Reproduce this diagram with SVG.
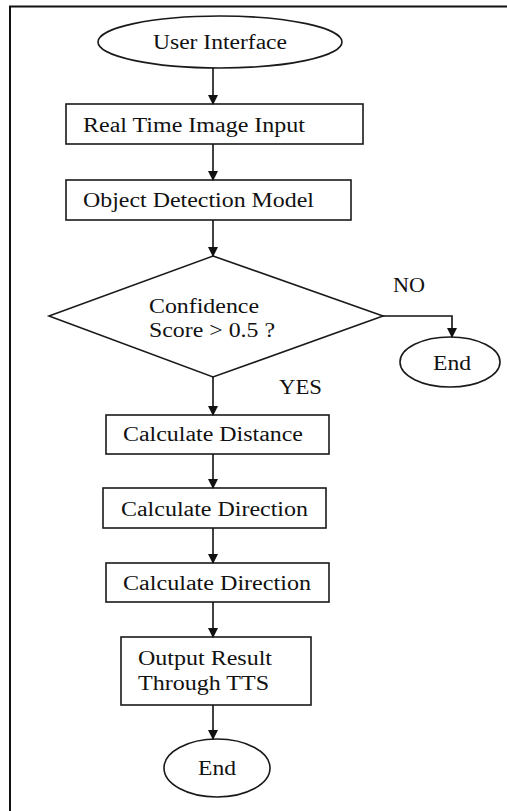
<svg xmlns="http://www.w3.org/2000/svg" width="507" height="811" viewBox="0 0 507 811">
<style>
.s{fill:#fff;stroke:#1a1a1a;stroke-width:1.6}
.t{font-family:"Liberation Serif","Times New Roman",serif;font-size:20px;fill:#111}
.c{stroke:#111;stroke-width:1.6;fill:none}
</style>
<defs>
<marker id="a" markerWidth="10" markerHeight="10" refX="9" refY="5" orient="auto" markerUnits="userSpaceOnUse">
<path d="M0,0 L10,5 L0,10 Z" fill="#111"/>
</marker>
</defs>
<rect width="507" height="811" fill="#fff"/>
<path d="M10,811 V6.5 H507" fill="none" stroke="#111" stroke-width="2"/>
<g id="n1"><ellipse class="s" cx="220" cy="42" rx="122" ry="26"/><text class="t" x="153" y="49" textLength="134" lengthAdjust="spacingAndGlyphs">User Interface</text></g>
<g id="n2"><rect class="s" x="66" y="104" width="297" height="40"/><text class="t" x="83" y="132" textLength="222" lengthAdjust="spacingAndGlyphs">Real Time Image Input</text></g>
<g id="n3"><rect class="s" x="66" y="180" width="285" height="40"/><text class="t" x="83" y="207" textLength="231" lengthAdjust="spacingAndGlyphs">Object Detection Model</text></g>
<g id="n4"><polygon class="s" points="213,256 383,316 213,377 49,316"/><text class="t" x="149" y="313" textLength="110" lengthAdjust="spacingAndGlyphs">Confidence</text><text class="t" x="149" y="337" textLength="126" lengthAdjust="spacingAndGlyphs">Score &gt; 0.5 ?</text></g>
<g id="n5"><ellipse class="s" cx="450" cy="362" rx="50" ry="25"/><text class="t" x="433" y="370" textLength="38" lengthAdjust="spacingAndGlyphs">End</text></g>
<g id="n6"><rect class="s" x="106" y="415" width="223" height="39"/><text class="t" x="123" y="441" textLength="180" lengthAdjust="spacingAndGlyphs">Calculate Distance</text></g>
<g id="n7"><rect class="s" x="103" y="488" width="223" height="40"/><text class="t" x="121" y="516" textLength="187" lengthAdjust="spacingAndGlyphs">Calculate Direction</text></g>
<g id="n8"><rect class="s" x="106" y="563" width="223" height="39"/><text class="t" x="123" y="590" textLength="188" lengthAdjust="spacingAndGlyphs">Calculate Direction</text></g>
<g id="n9"><rect class="s" x="121" y="637" width="190" height="68"/><text class="t" x="138" y="665" textLength="134" lengthAdjust="spacingAndGlyphs">Output Result</text><text class="t" x="138" y="690" textLength="131" lengthAdjust="spacingAndGlyphs">Through TTS</text></g>
<g id="n10"><ellipse class="s" cx="217" cy="768" rx="53" ry="29"/><text class="t" x="198" y="775" textLength="38" lengthAdjust="spacingAndGlyphs">End</text></g>
<g id="connectors">
<line class="c" x1="213" y1="68" x2="213" y2="104" marker-end="url(#a)"/>
<line class="c" x1="213" y1="144" x2="213" y2="180" marker-end="url(#a)"/>
<line class="c" x1="213" y1="220" x2="213" y2="256" marker-end="url(#a)"/>
<path class="c" d="M383,316 H452 V337" marker-end="url(#a)"/>
<line class="c" x1="213" y1="377" x2="213" y2="415" marker-end="url(#a)"/>
<line class="c" x1="213" y1="454" x2="213" y2="488" marker-end="url(#a)"/>
<line class="c" x1="213" y1="528" x2="213" y2="563" marker-end="url(#a)"/>
<line class="c" x1="213" y1="602" x2="213" y2="637" marker-end="url(#a)"/>
<line class="c" x1="213" y1="705" x2="213" y2="739" marker-end="url(#a)"/>
<text class="t" x="393" y="292" textLength="32" lengthAdjust="spacingAndGlyphs">NO</text>
<text class="t" x="279" y="394" textLength="43" lengthAdjust="spacingAndGlyphs">YES</text>
</g>
</svg>
